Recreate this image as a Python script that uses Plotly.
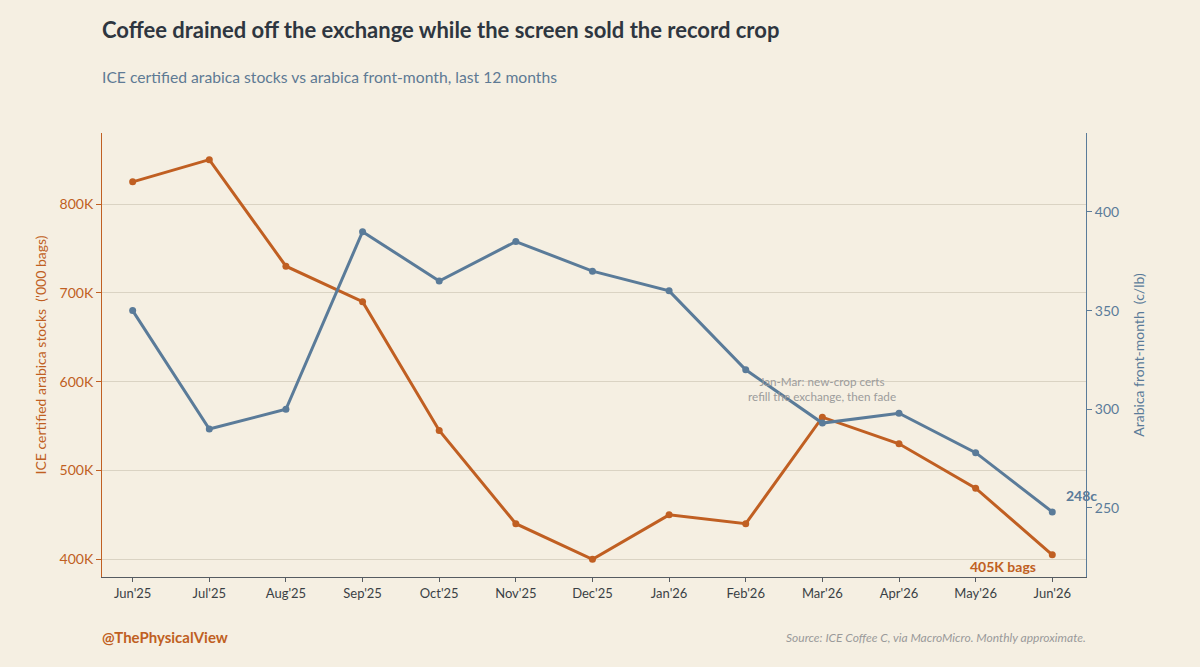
import plotly.graph_objects as go

# data
meses = ["Jun'25", "Jul'25", "Aug'25", "Sep'25", "Oct'25", "Nov'25", "Dec'25",
         "Jan'26", "Feb'26", "Mar'26", "Apr'26", "May'26", "Jun'26"]
stocks_k = [825, 850, 730, 690, 545, 440, 400, 450, 440, 560, 530, 480, 405]
precio_c = [350, 290, 300, 390, 365, 385, 370, 360, 320, 293, 298, 278, 248]

naranja = "#C05F22"
azul = "#5A7B99"
fondo = "#F5EFE2"

x = list(range(len(meses)))

fig = go.Figure()
fig.add_trace(go.Scatter(
    x=x, y=stocks_k, mode="lines+markers",
    line=dict(color=naranja, width=3),
    marker=dict(color=naranja, size=7),
    name="Stocks", yaxis="y",
))
fig.add_trace(go.Scatter(
    x=x, y=precio_c, mode="lines+markers",
    line=dict(color=azul, width=3),
    marker=dict(color=azul, size=7),
    name="Precio", yaxis="y2",
))

# etiquetas finales
fig.add_annotation(x=x[-1], y=precio_c[-1], yref="y2", text="<b>%dc</b>" % precio_c[-1],
                   showarrow=False, xanchor="left", xshift=12, yshift=16,
                   font=dict(color=azul, size=14))
fig.add_annotation(x=x[-1], y=stocks_k[-1], yref="y", text="<b>%dK bags</b>" % stocks_k[-1],
                   showarrow=False, xanchor="right", xshift=-14, yshift=-12,
                   font=dict(color=naranja, size=14))
fig.add_annotation(x=9, y=590, yref="y", yshift=2,
                   text="Jan-Mar: new-crop certs<br>refill the exchange, then fade",
                   showarrow=False, font=dict(color="#9C9C9C", size=11.7))

# titulo, subtitulo, pie
fig.add_annotation(xref="paper", yref="paper", x=0, y=1.234, xshift=-2,
                   text="<b>Coffee drained off the exchange while the screen sold the record crop</b>",
                   showarrow=False, xanchor="left", yanchor="middle", font=dict(size=22, color="#2E3640"))
fig.add_annotation(xref="paper", yref="paper", x=0, y=1.126, xshift=-2,
                   text="ICE certified arabica stocks vs arabica front-month, last 12 months",
                   showarrow=False, xanchor="left", yanchor="middle", font=dict(size=15.7, color="#5E7A94"))
fig.add_annotation(xref="paper", yref="paper", x=0, y=-0.135, xshift=-2, text="<b>@ThePhysicalView</b>",
                   showarrow=False, xanchor="left", yanchor="middle", font=dict(size=15, color=naranja))
fig.add_annotation(xref="paper", yref="paper", x=1, y=-0.137, xshift=2,
                   text="<i>Source: ICE Coffee C, via MacroMicro. Monthly approximate.</i>",
                   showarrow=False, xanchor="right", yanchor="middle", font=dict(size=12, color="#9A9A9A"))

fig.update_layout(
    width=1200, height=667,
    margin=dict(l=102, r=114, t=133, b=90),
    paper_bgcolor=fondo, plot_bgcolor=fondo,
    font=dict(family="Lato", size=14, color="#3A3F45"),
    showlegend=False,
    xaxis=dict(
        range=[-0.4, 12.44], tickmode="array", tickvals=x, ticktext=meses,
        showgrid=False, zeroline=False, showline=True, linecolor="#555B61", linewidth=1.2,
        ticks="outside", ticklen=4, tickcolor="#555B61", tickfont=dict(size=13, color="#3A3F45"),
    ),
    yaxis=dict(
        range=[380, 880], tickvals=[400, 500, 600, 700, 800],
        ticktext=["400K", "500K", "600K", "700K", "800K"],
        showgrid=True, gridcolor="#DAD3C3", gridwidth=1, zeroline=False,
        showline=True, linecolor=naranja, linewidth=1,
        ticks="outside", ticklen=5, tickcolor=naranja,
        tickfont=dict(size=14, color=naranja),
        title=dict(text="ICE certified arabica stocks  ('000 bags)", font=dict(size=14, color=naranja), standoff=9),
    ),
    yaxis2=dict(
        range=[215, 440], overlaying="y", side="right", tickvals=[250, 300, 350, 400],
        showgrid=False, zeroline=False, showline=True, linecolor=azul, linewidth=1,
        ticks="outside", ticklen=5, tickcolor=azul,
        tickfont=dict(size=14, color=azul),
        title=dict(text="Arabica front-month  (c/lb)", font=dict(size=14, color=azul), standoff=16),
    ),
)

fig.write_html("out.html", config={"displayModeBar": False},
               post_script="document.body.style.margin='0px';")
